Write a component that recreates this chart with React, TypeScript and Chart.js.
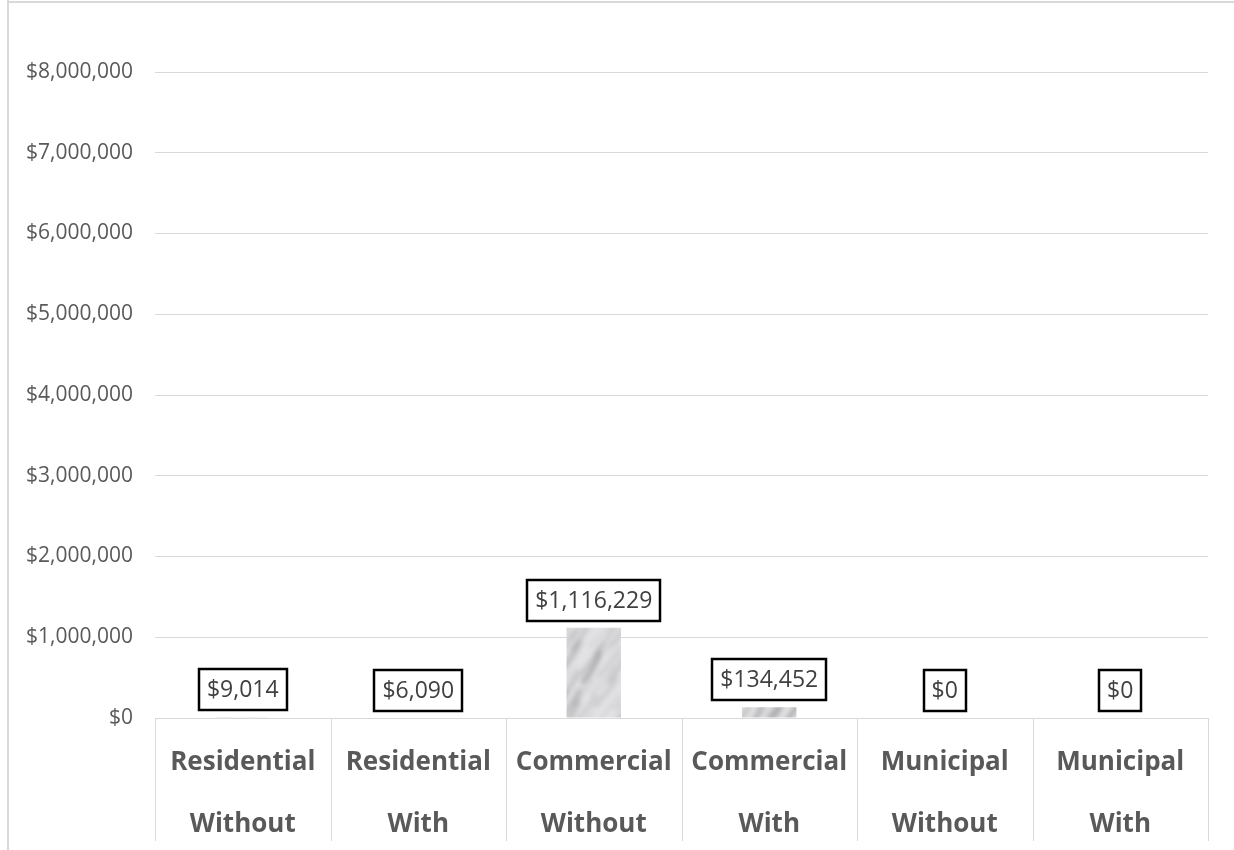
import React, { useEffect, useRef } from "react";
import { Chart, registerables } from "chart.js";

Chart.register(...registerables);

// ---- data ----
const categoryTop = ["Residential", "Residential", "Commercial", "Commercial", "Municipal", "Municipal"];
const categoryBottom = ["Without", "With", "Without", "With", "Without", "With"];
const values = [9014, 6090, 1116229, 134452, 0, 0];
const yMin = 0;
const yMax = 8000000;
const yStep = 1000000;

const W = 1234;
const H = 850;
const GRID = "#d9d9d9";

function fmt(v: number): string {
  return "$" + Math.round(v).toLocaleString("en-US");
}

// marble-like texture used as the bar fill (small tile, blurred once)
function makeMarble(ctx: CanvasRenderingContext2D): CanvasPattern | string {
  const T = 240;
  const raw = document.createElement("canvas");
  raw.width = T;
  raw.height = T;
  const g = raw.getContext("2d");
  if (!g) return "#d8d8da";
  g.fillStyle = "#e2e2e4";
  g.fillRect(0, 0, T, T);
  let k = 0;
  for (let y = -20; y < T + 20; y += 16) {
    for (let x = -20; x < T + 20; x += 18) {
      k++;
      const s1 = Math.abs(Math.sin(k * 12.9898) * 437.5453) % 1;
      const s2 = Math.abs(Math.sin(k * 78.233) * 123.4567) % 1;
      const s3 = Math.abs(Math.sin(k * 3.71) * 98.7654) % 1;
      const shade = Math.round(120 + s1 * 80);
      g.strokeStyle = `rgba(${shade},${shade},${shade + 4},${0.2 + s2 * 0.4})`;
      g.lineWidth = 1.5 + s3 * 5;
      const x0 = x + s2 * 14;
      const y0 = y + s1 * 14;
      g.beginPath();
      g.moveTo(x0, y0 + 14);
      g.quadraticCurveTo(x0 + 8 + s3 * 6, y0 + 2, x0 + 18 + s1 * 8, y0 - 12 - s2 * 6);
      g.stroke();
    }
  }
  const tile = document.createElement("canvas");
  tile.width = T;
  tile.height = T;
  const t = tile.getContext("2d");
  if (!t) return "#d8d8da";
  t.fillStyle = "#e2e2e4";
  t.fillRect(0, 0, T, T);
  t.filter = "blur(2.5px)";
  t.drawImage(raw, 0, 0);
  t.filter = "none";
  const p = ctx.createPattern(tile, "repeat");
  return p || "#d8d8da";
}

const framePlugin = {
  id: "frame",
  beforeDraw(chart: any) {
    const ctx = chart.ctx;
    ctx.save();
    ctx.fillStyle = "#ffffff";
    ctx.fillRect(0, 0, W, H);
    ctx.fillStyle = GRID;
    ctx.fillRect(7, 0, 2, H);
    ctx.fillRect(7, 1, W - 7, 2);
    ctx.restore();
  },
};

const dividerPlugin = {
  id: "dividers",
  afterDraw(chart: any) {
    const { ctx, chartArea } = chart;
    const n = values.length;
    const step = (chartArea.right - chartArea.left) / n;
    ctx.save();
    ctx.strokeStyle = GRID;
    ctx.lineWidth = 1;
    for (let i = 0; i <= n; i++) {
      const x = Math.round(chartArea.left + i * step) + 0.5;
      ctx.beginPath();
      ctx.moveTo(x, chartArea.bottom);
      ctx.lineTo(x, chartArea.bottom + 123);
      ctx.stroke();
    }
    ctx.restore();
  },
};

const labelPlugin = {
  id: "boxLabels",
  afterDatasetsDraw(chart: any) {
    const ctx = chart.ctx;
    const meta = chart.getDatasetMeta(0);
    ctx.save();
    ctx.font = '23px "Open Sans"';
    ctx.textAlign = "center";
    ctx.textBaseline = "middle";
    meta.data.forEach((bar: any, i: number) => {
      const text = fmt(values[i]);
      const tw = ctx.measureText(text).width;
      const w = Math.round(tw + 16);
      const h = 41;
      const bottom = Math.round(bar.y - 7);
      const left = Math.round(bar.x - w / 2);
      ctx.fillStyle = "#ffffff";
      ctx.fillRect(left, bottom - h, w, h);
      ctx.lineWidth = 2.5;
      ctx.strokeStyle = "#000000";
      ctx.strokeRect(left, bottom - h, w, h);
      ctx.fillStyle = "#404040";
      ctx.fillText(text, bar.x, bottom - h / 2 + 1);
    });
    ctx.restore();
  },
};

export default function App() {
  const ref = useRef<HTMLCanvasElement | null>(null);

  useEffect(() => {
    const canvas = ref.current;
    if (!canvas) return;
    const ctx = canvas.getContext("2d");
    if (!ctx) return;
    const marble = makeMarble(ctx);
    const labels = categoryTop.map((t, i) => [t, categoryBottom[i]]);

    const chart = new Chart(canvas, {
      type: "bar",
      data: {
        labels,
        datasets: [
          {
            data: values,
            backgroundColor: marble as any,
            borderWidth: 0,
            barPercentage: 0.31,
            categoryPercentage: 1,
          },
        ],
      },
      plugins: [framePlugin, dividerPlugin, labelPlugin],
      options: {
        responsive: false,
        animation: false,
        devicePixelRatio: 1,
        layout: { padding: { top: 72, right: 26, left: 0, bottom: 0 } },
        plugins: {
          legend: { display: false },
          tooltip: { enabled: false },
          title: { display: false },
        },
        scales: {
          x: {
            grid: { display: false },
            border: { display: true, color: GRID },
            ticks: {
              color: "#595959",
              padding: 6,
              maxRotation: 0,
              autoSkip: false,
              font: { family: '"Open Sans"', size: 26, weight: "bold", lineHeight: "62px" as any },
            },
            afterFit(scale: any) {
              scale.height = 132;
            },
          },
          y: {
            min: yMin,
            max: yMax,
            grid: { color: GRID, drawTicks: false },
            border: { display: false },
            ticks: {
              stepSize: yStep,
              padding: 22,
              color: "#595959",
              font: { family: '"Open Sans"', size: 21 },
              callback: (v: any) => fmt(Number(v)),
            },
            afterFit(scale: any) {
              scale.width = 155;
            },
          },
        },
      },
    });
    return () => chart.destroy();
  }, []);

  return (
    <div style={{ position: "absolute", left: 0, top: 0, width: W, height: H, background: "#fff" }}>
      <canvas ref={ref} width={W} height={H} style={{ display: "block", width: W, height: H }} />
    </div>
  );
}
